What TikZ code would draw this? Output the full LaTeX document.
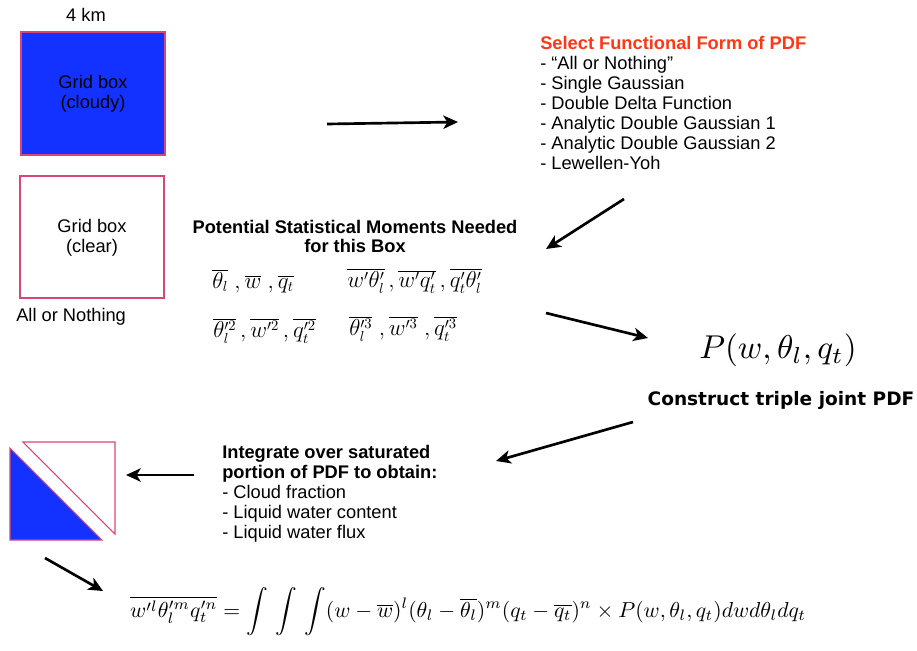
\documentclass[tikz,border=0pt]{standalone}
\usepackage{fontspec}
\setmainfont{Liberation Sans}
\newfontfamily\gillfont{DejaVu Sans}
\usepackage{graphicx}
\usetikzlibrary{arrows.meta}
\definecolor{boxblue}{RGB}{20,50,255}
\definecolor{boxpink}{RGB}{216,70,120}
\definecolor{titlered}{RGB}{255,55,20}
\tikzset{
  flowarrow/.style={line width=2pt,-{Stealth[length=11pt,width=10pt,inset=3pt]}},
  txt/.style={inner sep=0pt,font=\fontsize{13.7}{15}\selectfont},
  gridbox/.style={draw=boxpink,line width=0.8pt},
  mom/.style={inner sep=0pt,anchor=west,font=\fontsize{16}{18}\selectfont},
}
\begin{document}
\begin{tikzpicture}[x=0.75pt,y=-0.75pt]
\useasboundingbox (0,0) rectangle (917,650);
% grid boxes
\node[txt] (km) at (86,15) {4 km};
\filldraw[gridbox,fill=boxblue] (21,32) rectangle (165,155);
\node[txt,align=center] (cloudy) at (93,94) {Grid box\\(cloudy)};
\draw[gridbox] (20,176) rectangle (164,298);
\node[txt,align=center] (clear) at (92,238) {Grid box\\(clear)};
\node[txt,anchor=west] (allnot) at (16,317) {All or Nothing};
% select functional form
\node[txt,anchor=north west,align=left] (select) at (540,36)
 {\textcolor{titlered}{\bfseries Select Functional Form of PDF}\\
 - ``All or Nothing''\\
 - Single Gaussian\\
 - Double Delta Function\\
 - Analytic Double Gaussian 1\\
 - Analytic Double Gaussian 2\\
 - Lewellen-Yoh};
% moments
\node[txt,anchor=north,align=center,font=\fontsize{13.7}{14.3}\selectfont\bfseries] (moments) at (355,220)
 {Potential Statistical Moments Needed\\for this Box};
\node[mom] (m1) at (212,281)
 {$\overline{\theta_l}\;,\overline{w}\;,\overline{q_t}$};
\node[mom] (m2) at (347,281)
 {$\overline{w'\theta_l'}\,,\overline{w'q_t'}\,,\overline{q_t'\theta_l'}$};
\node[mom] (m3) at (213,331)
 {$\overline{\theta_l'^2}\,,\overline{w'^2}\,,\overline{q_t'^2}$};
\node[mom] (m4) at (349,329)
 {$\overline{\theta_l'^3}\;,\overline{w'^3}\;,\overline{q_t'^3}$};
% PDF
\node[inner sep=0pt] (pdf) at (778,350) {\resizebox{118pt}{!}{$P(w,\theta_l,q_t)$}};
\node[inner sep=0pt] (construct) at (781,400) {\resizebox{200pt}{!}{\gillfont\bfseries Construct triple joint PDF}};
% integrate
\node[txt,anchor=north west,align=left] (integ) at (222,445)
 {\bfseries Integrate over saturated\\
 \bfseries portion of PDF to obtain:\\
 - Cloud fraction\\
 - Liquid water content\\
 - Liquid water flux};
% triangles
\filldraw[gridbox,fill=boxblue] (10,448) -- (10,540) -- (102,540) -- cycle;
\draw[gridbox] (23,442) -- (115,442) -- (115,534) -- cycle;
% equation
\node[inner sep=0pt] (eq) at (468,612)
 {\resizebox{507pt}{!}{$\displaystyle\overline{w'^{l}\theta_l'^{m}q_t'^{n}}=\int\,\int\,\int(w-\overline{w})^l(\theta_l-\overline{\theta_l})^m(q_t-\overline{q_t})^n\times P(w,\theta_l,q_t)dwd\theta_ldq_t$}};
% arrow coordinates
\coordinate (a1s) at (327,124); \coordinate (a1e) at (458,122);
\coordinate (a2s) at (624,199); \coordinate (a2e) at (546,249);
\coordinate (a3s) at (546,313); \coordinate (a3e) at (648,338);
\coordinate (a4s) at (633,422); \coordinate (a4e) at (496,461);
\coordinate (a5s) at (194,475); \coordinate (a5e) at (126,475);
\coordinate (a6s) at (45,558); \coordinate (a6e) at (103,591);
\draw[flowarrow] (a1s) -- (a1e);
\draw[flowarrow] (a2s) -- (a2e);
\draw[flowarrow] (a3s) -- (a3e);
\draw[flowarrow] (a4s) -- (a4e);
\draw[flowarrow] (a5s) -- (a5e);
\draw[flowarrow] (a6s) -- (a6e);
\end{tikzpicture}
\end{document}
